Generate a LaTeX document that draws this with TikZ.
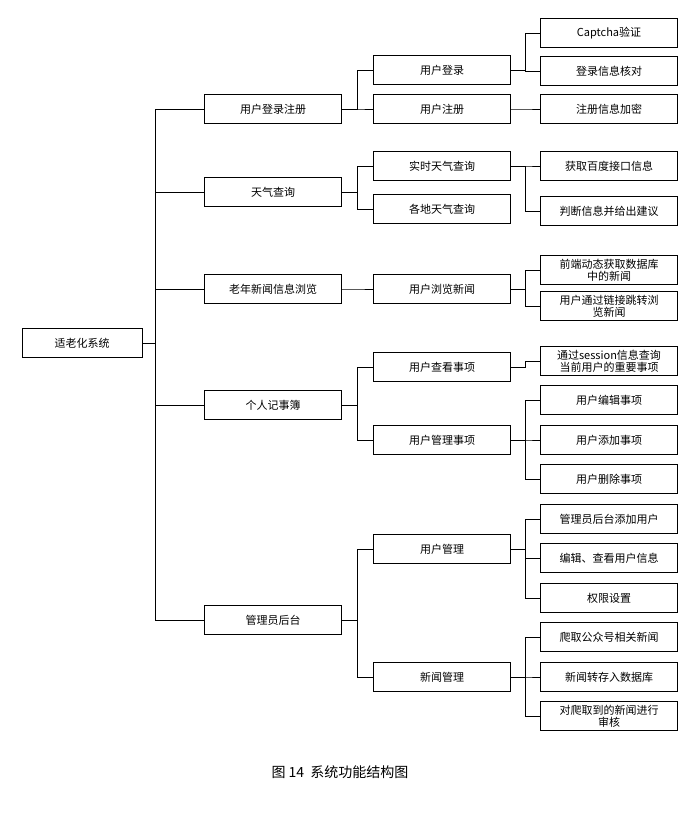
\documentclass[tikz,border=0pt]{standalone}
\usepackage{fontspec}
\newfontfamily\cjk{Noto Sans CJK SC}
\begin{document}
\begin{tikzpicture}[x=1pt,y=-1pt,
  box/.style={draw,thick,minimum height=29pt,align=center,inner sep=1pt,font=\cjk\fontsize{11}{12}\selectfont},
  boxa/.style={box,minimum width=120pt},
  boxb/.style={box,minimum width=137pt},
  link/.style={thick}]
\useasboundingbox (0,0) rectangle (699,815);
% root and first level
\node[boxa] (root) at (82,343) {适老化系统};
\node[boxb] (login) at (273,109) {用户登录注册};
\node[boxb] (weather) at (273,192) {天气查询};
\node[boxb] (news) at (273,289) {老年新闻信息浏览};
\node[boxb] (diary) at (273,405) {个人记事簿};
\node[boxb] (admin) at (273,620) {管理员后台};
% second level
\node[boxb] (ulogin) at (442,70) {用户登录};
\node[boxb] (ureg) at (442,109) {用户注册};
\node[boxb] (wnow) at (442,166) {实时天气查询};
\node[boxb] (wall) at (442,209) {各地天气查询};
\node[boxb] (nbrowse) at (442,289) {用户浏览新闻};
\node[boxb] (dview) at (442,367) {用户查看事项};
\node[boxb] (dmanage) at (442,440) {用户管理事项};
\node[boxb] (auser) at (442,549) {用户管理};
\node[boxb] (anews) at (442,677) {新闻管理};
% third level
\node[boxb] (c1) at (609,33) {Captcha验证};
\node[boxb] (c2) at (609,71) {登录信息核对};
\node[boxb] (c3) at (609,109) {注册信息加密};
\node[boxb] (c4) at (609,166) {获取百度接口信息};
\node[boxb] (c5) at (609,211) {判断信息并给出建议};
\node[boxb] (c6) at (609,270) {前端动态获取数据库\\中的新闻};
\node[boxb] (c7) at (609,306) {用户通过链接跳转浏\\览新闻};
\node[boxb] (c8) at (609,361) {通过session信息查询\\当前用户的重要事项};
\node[boxb] (c9) at (609,400) {用户编辑事项};
\node[boxb] (c10) at (609,440) {用户添加事项};
\node[boxb] (c11) at (609,479) {用户删除事项};
\node[boxb] (c12) at (609,519) {管理员后台添加用户};
\node[boxb] (c13) at (609,558) {编辑、查看用户信息};
\node[boxb] (c14) at (609,598) {权限设置};
\node[boxb] (c15) at (609,637) {爬取公众号相关新闻};
\node[boxb] (c16) at (609,677) {新闻转存入数据库};
\node[boxb] (c17) at (609,716) {对爬取到的新闻进行\\审核};
% connectors
\foreach \c in {login,weather,news,diary,admin}
  \draw[link] (root.east) -- ([xshift=13]root.east) |- (\c.west);
\foreach \p/\c in {login/ulogin,login/ureg,weather/wnow,weather/wall,news/nbrowse,
    diary/dview,diary/dmanage,admin/auser,admin/anews}
  \draw[link] (\p.east) -- ([xshift=15]\p.east) |- (\c.west);
\foreach \p/\c in {ulogin/c1,ulogin/c2,ureg/c3,wnow/c4,wnow/c5,nbrowse/c6,nbrowse/c7,
    dview/c8,dmanage/c9,dmanage/c10,dmanage/c11,auser/c12,auser/c13,auser/c14,
    anews/c15,anews/c16,anews/c17}
  \draw[link] (\p.east) -- ([xshift=14]\p.east) |- (\c.west);
\node[font=\cjk\fontsize{14}{16}\selectfont] (cap) at (340,772) {图 14\ \ 系统功能结构图};
\end{tikzpicture}
\end{document}
